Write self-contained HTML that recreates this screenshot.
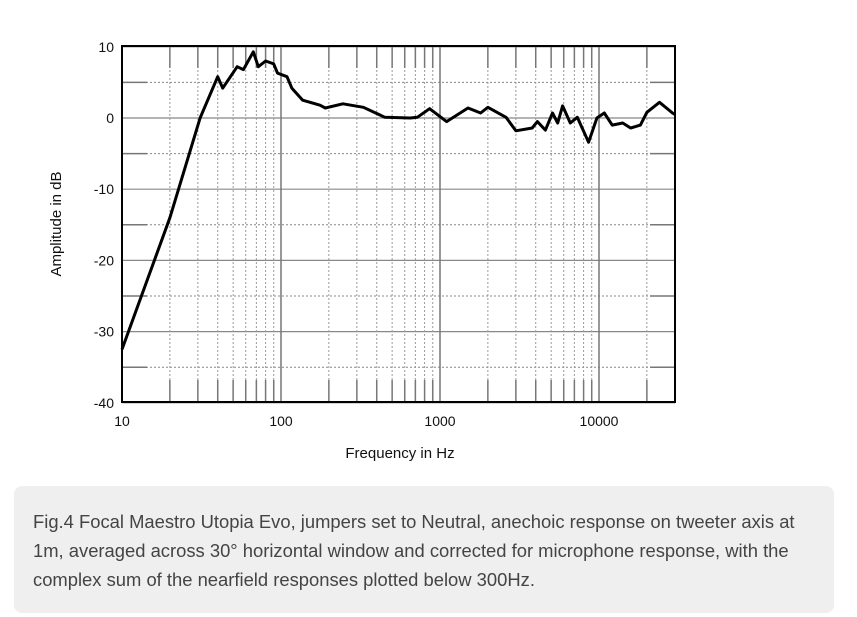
<!DOCTYPE html>
<html><head><meta charset="utf-8"><style>
body{margin:0;width:857px;height:617px;background:#fff;overflow:hidden;font-family:"Liberation Sans",sans-serif}
#cap{position:absolute;left:14px;top:486px;width:820px;height:127px;background:#efefef;border-radius:8px}
#cap p{margin:0;position:absolute;left:19px;top:21px;width:790px;font-size:18.4px;line-height:29px;color:#444}
</style></head><body>
<svg id="chart" width="857" height="480" style="position:absolute;left:0;top:0"></svg>
<div id="cap"><p>Fig.4 Focal Maestro Utopia Evo, jumpers set to Neutral, anechoic response on tweeter axis at 1m, averaged across 30° horizontal window and corrected for microphone response, with the complex sum of the nearfield responses plotted below 300Hz.</p></div>
<script>
const freqs=[10,20,31,40,43,53,58,67,72,80,90,95,109,117,137,176,190,245,330,450,650,720,860,1100,1500,1800,2000,2600,3000,3800,4100,4600,5100,5500,5900,6600,7300,8600,9700,10800,12100,14100,15800,18200,20000,24000,29000,30000];
const dbs=[-32.5,-14,0,5.8,4.2,7.2,6.8,9.3,7.2,8,7.6,6.3,5.8,4.2,2.5,1.8,1.4,2,1.5,0.1,0,0.1,1.3,-0.5,1.4,0.7,1.5,0.1,-1.8,-1.4,-0.5,-1.7,0.7,-0.7,1.7,-0.7,0.1,-3.4,0,0.7,-1,-0.7,-1.4,-1,0.8,2.2,0.7,0.5];
const yTicks=[10,0,-10,-20,-30,-40];
const xTicks=[10,100,1000,10000];
const NS="http://www.w3.org/2000/svg",svg=document.getElementById('chart');
const X0=122,DEC=159,Y0=118,DBP=7.12,YT=46,YB=402,XR=675;
const xs=f=>X0+(Math.log10(f)-1)*DEC, ys=d=>Y0-d*DBP;
function mk(t,a,p){const e=document.createElementNS(NS,t);for(const k in a)e.setAttribute(k,a[k]);(p||svg).appendChild(e);return e;}
const g=mk('g',{});


for(let d=10;d>=-40;d-=5){const y=ys(d);
 if(d%10===0){mk('line',{x1:X0,x2:XR,y1:y,y2:y,stroke:'#888','stroke-width':1.2},g);}
 else{mk('line',{x1:X0,x2:XR,y1:y,y2:y,stroke:'#888','stroke-width':1,'stroke-dasharray':'2,2'},g);
  mk('line',{x1:X0,x2:X0+25,y1:y,y2:y,stroke:'#777','stroke-width':1.5},g);mk('line',{x1:XR-25,x2:XR,y1:y,y2:y,stroke:'#777','stroke-width':1.5},g);}
}
for(let dec=10;dec<=10000;dec*=10)for(let m=1;m<=9;m++){const f=dec*m;if(f>30000)break;const x=xs(f);
 if(m===1){mk('line',{x1:x,x2:x,y1:YT,y2:YB,stroke:'#777','stroke-width':1.5},g);}
 else{mk('line',{x1:x,x2:x,y1:YT,y2:YB,stroke:'#999','stroke-width':1,'stroke-dasharray':'2,2'},g);
  mk('line',{x1:x,x2:x,y1:YT,y2:YT+22,stroke:'#777','stroke-width':1.5},g);mk('line',{x1:x,x2:x,y1:YB-22,y2:YB,stroke:'#777','stroke-width':1.5},g);}
}
const fr=mk('rect',{x:X0,y:YT,width:XR-X0,height:YB-YT,fill:'none',stroke:'#000','stroke-width':2});


yTicks.forEach(d=>{const t=mk('text',{x:114,y:ys(d)+5,'text-anchor':'end','font-size':14,fill:'#111'});t.textContent=d;
 
 });
xTicks.forEach(f=>{const t=mk('text',{x:xs(f),y:426,'text-anchor':'middle','font-size':14,fill:'#111'});t.textContent=f;
 
 });
const xt=mk('text',{x:400,y:458,'text-anchor':'middle','font-size':15,fill:'#111'});xt.textContent='Frequency in Hz';


const yt=mk('text',{x:0,y:0,'text-anchor':'middle','font-size':15,fill:'#111',transform:'translate(61,224) rotate(-90)'});yt.textContent='Amplitude in dB';


const pts=freqs.map((f,i)=>xs(Math.min(f,30000)).toFixed(1)+','+ys(dbs[i]).toFixed(1)).join(' ');
const pl=mk('polyline',{points:pts,fill:'none',stroke:'#000','stroke-width':3,'stroke-linejoin':'round'});


</script>
</body></html>
